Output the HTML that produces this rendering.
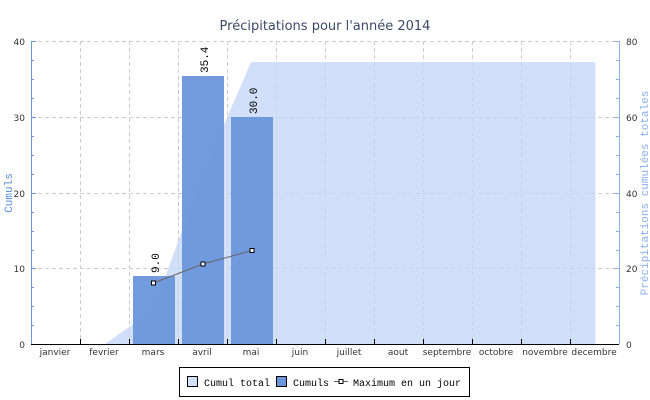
<!DOCTYPE html>
<html><head><meta charset="utf-8"><style>
body{margin:0;background:#fff;}
svg{display:block;font-family:"Liberation Mono","DejaVu Sans Mono",monospace;}
</style></head><body>
<svg width="650" height="400" viewBox="0 0 650 400" xmlns="http://www.w3.org/2000/svg">
<text x="325" y="30" text-anchor="middle" font-size="13" fill="#3a4a66" font-family="DejaVu Sans, sans-serif">Précipitations pour l'année 2014</text>
<g stroke="#cccccc" stroke-dasharray="4,3" stroke-width="1">
<line x1="31" y1="41.5" x2="619" y2="41.5"/>
<line x1="31" y1="117.5" x2="619" y2="117.5"/>
<line x1="31" y1="193.5" x2="619" y2="193.5"/>
<line x1="31" y1="268.5" x2="619" y2="268.5"/>
<line x1="80.5" y1="41" x2="80.5" y2="344"/>
<line x1="129.5" y1="41" x2="129.5" y2="344"/>
<line x1="178.5" y1="41" x2="178.5" y2="344"/>
<line x1="227.5" y1="41" x2="227.5" y2="344"/>
<line x1="276.5" y1="41" x2="276.5" y2="344"/>
<line x1="325.5" y1="41" x2="325.5" y2="344"/>
<line x1="374.5" y1="41" x2="374.5" y2="344"/>
<line x1="423.5" y1="41" x2="423.5" y2="344"/>
<line x1="472.5" y1="41" x2="472.5" y2="344"/>
<line x1="521.5" y1="41" x2="521.5" y2="344"/>
<line x1="570.5" y1="41" x2="570.5" y2="344"/>
</g>
<polygon points="105,344 153,310 202,176 251,62 595.5,62 595.5,344" fill="#c4d6f6" fill-opacity="0.78"/>
<g fill="#6a96dc" fill-opacity="0.95">
<rect x="133" y="276" width="42" height="68"/>
<rect x="182" y="76" width="42" height="268"/>
<rect x="231" y="117" width="42" height="227"/>
</g>
<polyline points="153.5,283 203,264 252,250.5" fill="none" stroke="#666" stroke-width="1"/>
<g fill="#fff" stroke="#000" stroke-width="1">
<rect x="151.5" y="281" width="4" height="4"/>
<rect x="201" y="262" width="4" height="4"/>
<rect x="250" y="248.5" width="4" height="4"/>
</g>
<g font-size="11" fill="#000">
<text transform="translate(159,273) rotate(-90)">9.0</text>
<text transform="translate(208,73) rotate(-90)">35.4</text>
<text transform="translate(257,114) rotate(-90)">30.0</text>
</g>
<line x1="31.5" y1="41" x2="31.5" y2="344" stroke="#6a96dc"/>
<line x1="619.5" y1="41" x2="619.5" y2="344" stroke="#8ab0f0"/>
<line x1="31" y1="344.5" x2="619" y2="344.5" stroke="#000"/>
<g stroke="#6a96dc">
<line x1="31" y1="41.5" x2="36" y2="41.5"/><line x1="31" y1="60.5" x2="34" y2="60.5"/><line x1="31" y1="79.5" x2="34" y2="79.5"/><line x1="31" y1="98.5" x2="34" y2="98.5"/>
<line x1="31" y1="117.5" x2="36" y2="117.5"/><line x1="31" y1="136.5" x2="34" y2="136.5"/><line x1="31" y1="155.5" x2="34" y2="155.5"/><line x1="31" y1="174.5" x2="34" y2="174.5"/>
<line x1="31" y1="193.5" x2="36" y2="193.5"/><line x1="31" y1="212.5" x2="34" y2="212.5"/><line x1="31" y1="231.5" x2="34" y2="231.5"/><line x1="31" y1="250.5" x2="34" y2="250.5"/>
<line x1="31" y1="268.5" x2="36" y2="268.5"/><line x1="31" y1="287.5" x2="34" y2="287.5"/><line x1="31" y1="306.5" x2="34" y2="306.5"/><line x1="31" y1="325.5" x2="34" y2="325.5"/>
</g>
<g stroke="#8ab0f0">
<line x1="614" y1="41.5" x2="619" y2="41.5"/><line x1="616" y1="60.5" x2="619" y2="60.5"/><line x1="616" y1="79.5" x2="619" y2="79.5"/><line x1="616" y1="98.5" x2="619" y2="98.5"/>
<line x1="614" y1="117.5" x2="619" y2="117.5"/><line x1="616" y1="136.5" x2="619" y2="136.5"/><line x1="616" y1="155.5" x2="619" y2="155.5"/><line x1="616" y1="174.5" x2="619" y2="174.5"/>
<line x1="614" y1="193.5" x2="619" y2="193.5"/><line x1="616" y1="212.5" x2="619" y2="212.5"/><line x1="616" y1="231.5" x2="619" y2="231.5"/><line x1="616" y1="250.5" x2="619" y2="250.5"/>
<line x1="614" y1="268.5" x2="619" y2="268.5"/><line x1="616" y1="287.5" x2="619" y2="287.5"/><line x1="616" y1="306.5" x2="619" y2="306.5"/><line x1="616" y1="325.5" x2="619" y2="325.5"/>
</g>
<g stroke="#000">
<line x1="80.5" y1="339" x2="80.5" y2="344"/><line x1="129.5" y1="339" x2="129.5" y2="344"/><line x1="178.5" y1="339" x2="178.5" y2="344"/><line x1="227.5" y1="339" x2="227.5" y2="344"/><line x1="276.5" y1="339" x2="276.5" y2="344"/><line x1="325.5" y1="339" x2="325.5" y2="344"/><line x1="374.5" y1="339" x2="374.5" y2="344"/><line x1="423.5" y1="339" x2="423.5" y2="344"/><line x1="472.5" y1="339" x2="472.5" y2="344"/><line x1="521.5" y1="339" x2="521.5" y2="344"/><line x1="570.5" y1="339" x2="570.5" y2="344"/>
</g>
<g font-size="9" fill="#333" font-family="DejaVu Sans, sans-serif" text-anchor="end">
<text x="25" y="45">40</text><text x="25" y="121">30</text><text x="25" y="197">20</text><text x="25" y="272">10</text><text x="25" y="348">0</text>
</g>
<g font-size="9" fill="#333" font-family="DejaVu Sans, sans-serif">
<text x="626" y="45">80</text><text x="626" y="121">60</text><text x="626" y="197">40</text><text x="626" y="272">20</text><text x="626" y="348">0</text>
</g>
<g font-size="9" fill="#333" font-family="DejaVu Sans, sans-serif" text-anchor="middle">
<text x="55" y="355">janvier</text><text x="104" y="355">fevrier</text><text x="153" y="355">mars</text><text x="202" y="355">avril</text><text x="251" y="355">mai</text><text x="300" y="355">juin</text><text x="349" y="355">juillet</text><text x="398" y="355">aout</text><text x="447" y="355">septembre</text><text x="496" y="355">octobre</text><text x="545" y="355">novembre</text><text x="594" y="355">decembre</text>
</g>
<text transform="translate(12,193) rotate(-90)" text-anchor="middle" font-size="11" fill="#5b8fe0">Cumuls</text>
<text transform="translate(648,193) rotate(-90)" text-anchor="middle" font-size="11" fill="#8ab0f0">Précipitations cumulées totales</text>
<rect x="179.5" y="367.5" width="290" height="29" fill="#fff" stroke="#000"/>
<rect x="187.5" y="376.5" width="10" height="10" fill="#d2e0f9" stroke="#000"/>
<text x="204" y="386" font-size="10" fill="#000">Cumul total</text>
<rect x="276.5" y="376.5" width="10" height="10" fill="#6a96dc" stroke="#000"/>
<text x="293" y="386" font-size="10" fill="#000">Cumuls</text>
<line x1="334" y1="381.5" x2="348" y2="381.5" stroke="#666"/>
<rect x="339" y="379.5" width="4" height="4" fill="#fff" stroke="#000"/>
<text x="353" y="386" font-size="10" fill="#000">Maximum en un jour</text>
</svg>
</body></html>
